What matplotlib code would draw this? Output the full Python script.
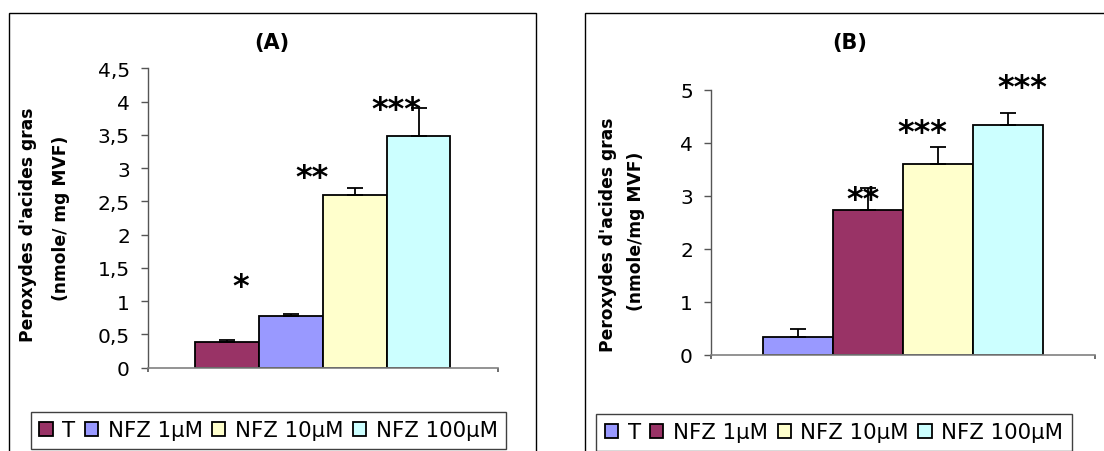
import numpy as np
import matplotlib
matplotlib.use('Agg')
import matplotlib.pyplot as plt
from matplotlib.patches import Rectangle

# Fatty acid peroxides, two experiments (A) and (B)
labels = ['T', 'NFZ 1µM', 'NFZ 10µM', 'NFZ 100µM']

vals_a = [0.39, 0.77, 2.59, 3.48]
err_a = [0.03, 0.03, 0.11, 0.42]
colors_a = ['#993366', '#9999FF', '#FFFFCC', '#CCFFFF']
stars_a = ['*', '**', '***']
star_x_a = [-1.28, -0.17, 1.15]
star_y_a = [1.38, 3.02, 4.03]
yticks_a = [0, 0.5, 1, 1.5, 2, 2.5, 3, 3.5, 4, 4.5]

vals_b = [0.345, 2.74, 3.60, 4.33]
err_b = [0.145, 0.41, 0.32, 0.24]
colors_b = ['#9999FF', '#993366', '#FFFFCC', '#CCFFFF']
stars_b = ['**', '***', '***']
star_x_b = [-0.57, 0.27, 1.71]
star_y_b = [3.13, 4.39, 5.23]
yticks_b = [0, 1, 2, 3, 4, 5]

plt.rcParams['font.family'] = ['DejaVu Sans']

fig = plt.figure(figsize=(11.04, 4.52), dpi=100)
fig.patch.set_facecolor('white')

# outer chart borders
fig.add_artist(Rectangle((0.0077, -0.05), 0.4778, 1.019, transform=fig.transFigure,
                         fill=False, edgecolor='black', linewidth=1.0))
fig.add_artist(Rectangle((0.5303, -0.05), 0.6, 1.019, transform=fig.transFigure,
                         fill=False, edgecolor='black', linewidth=1.0))


def fmt(v):
    s = ('%g' % v).replace('.', ',')
    return s


def draw_panel(rect, vals, errs, colors, yticks, stars, sx, sy, legend_pos):
    ax = fig.add_axes(rect)
    x = np.arange(4) - 1.5
    bars = []
    for i in range(4):
        b = ax.bar(x[i], vals[i], width=1.0, color=colors[i], edgecolor='black',
                   linewidth=1.3, label=labels[i], zorder=2)
        bars.append(b)
    ax.errorbar(x, vals, yerr=[np.zeros(4), errs], fmt='none', ecolor='black',
                elinewidth=1.3, capsize=6, capthick=1.3, zorder=3)
    ax.set_xlim(-2.74, 2.74)
    ax.set_ylim(yticks[0], yticks[-1])
    ax.set_yticks(yticks)
    ax.set_yticklabels([fmt(v) for v in yticks], fontsize=14.5)
    ax.set_xticks([-2.74, 2.74])
    ax.set_xticklabels([])
    ax.tick_params(axis='y', direction='out', length=5, width=1, color='#555555', pad=8)
    ax.tick_params(axis='x', direction='out', length=3, width=1.2, color='#555555')
    for s in ['top', 'right']:
        ax.spines[s].set_visible(False)
    ax.spines['left'].set_color('#555555')
    ax.spines['bottom'].set_color('#808080')
    ax.spines['left'].set_linewidth(1.0)
    ax.spines['bottom'].set_linewidth(1.2)
    ax.patch.set_alpha(0)

    for s, xs, ys in zip(stars, sx, sy):
        ax.annotate(s, (xs, ys), xytext=(0, -0.59 * 23), textcoords='offset points',
                    ha='center', va='baseline', fontsize=23, fontweight='bold',
                    annotation_clip=False, zorder=4)

    fig.legend(handles=[b[0] for b in bars], labels=labels, loc='center',
               bbox_to_anchor=legend_pos, ncol=4, fontsize=15.3,
               frameon=True, fancybox=False, edgecolor='#404040', framealpha=1,
               handlelength=0.62, handleheight=0.62, handletextpad=0.45,
               borderpad=0.4, borderaxespad=0, columnspacing=0.45)
    return ax


ax_a = draw_panel([0.134, 0.1847, 0.3168, 0.662], vals_a, err_a, colors_a, yticks_a,
                  stars_a, star_x_a, star_y_a, (0.2432, 0.0454))
ax_b = draw_panel([0.644, 0.2124, 0.3478, 0.5869], vals_b, err_b, colors_b, yticks_b,
                  stars_b, star_x_b, star_y_b, (0.7554, 0.041))

fig.text(0.2462, 0.905, '(A)', ha='center', va='center', fontsize=15, fontweight='bold')
fig.text(0.7695, 0.905, '(B)', ha='center', va='center', fontsize=15, fontweight='bold')

fig.text(0.0254, 0.502, "Peroxydes d'acides gras", rotation=90, ha='center', va='center',
         fontsize=12.3, fontweight='bold')
fig.text(0.0553, 0.518, '(nmole/ mg MVF)', rotation=90, ha='center', va='center',
         fontsize=12.3, fontweight='bold')
fig.text(0.5507, 0.481, "Peroxydes d'acides gras", rotation=90, ha='center', va='center',
         fontsize=12.3, fontweight='bold')
fig.text(0.5761, 0.489, '(nmole/mg MVF)', rotation=90, ha='center', va='center',
         fontsize=12.3, fontweight='bold')

fig.savefig('out.png', dpi=100, facecolor='white')
